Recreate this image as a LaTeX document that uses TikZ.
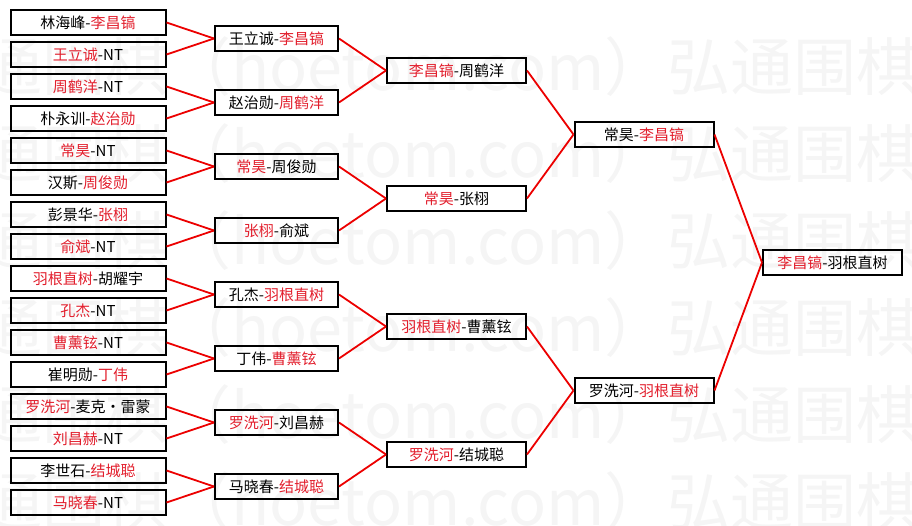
\documentclass[tikz,border=0pt]{standalone}
\usepackage{fontspec}
\setmainfont{Noto Sans CJK SC}
\usetikzlibrary{positioning}

\definecolor{winred}{RGB}{226,30,44}
\definecolor{linkred}{RGB}{236,0,0}
\definecolor{wmgray}{RGB}{245,245,245}
\newcommand{\win}[1]{\textcolor{winred}{#1}}

\begin{document}
\begin{tikzpicture}[
x=1pt, y=-1pt,
box/.style={rectangle, draw=black, line width=2pt, inner sep=0pt, minimum height=25pt, font=\fontsize{15pt}{16pt}\selectfont},
first/.style={box, minimum width=155pt},
second/.style={box, minimum width=123pt},
third/.style={box, minimum width=139pt},
wmark/.style={anchor=west, inner sep=0pt, text=wmgray, font=\fontsize{63pt}{66pt}\selectfont},
line/.style={linkred, line width=1.8pt}
]
\useasboundingbox (0,0) rectangle (912,525);
\clip (0,0) rectangle (912,525);

% watermark rows
\node[wmark] (wm1) at (-84,67) {弘通围棋（hoetom.com）弘通围棋};
\node[wmark] (wm2) at (-84,154) {弘通围棋（hoetom.com）弘通围棋};
\node[wmark] (wm3) at (-84,241) {弘通围棋（hoetom.com）弘通围棋};
\node[wmark] (wm4) at (-84,328) {弘通围棋（hoetom.com）弘通围棋};
\node[wmark] (wm5) at (-84,415) {弘通围棋（hoetom.com）弘通围棋};
\node[wmark] (wm6) at (-84,502) {弘通围棋（hoetom.com）弘通围棋};

% round of 32
\node[first] (a1) at (88,22.5) {林海峰-\win{李昌镐}};
\node[first] (a2) at (88,54.5) {\win{王立诚}-NT};
\node[first] (a3) at (88,86.5) {\win{周鹤洋}-NT};
\node[first] (a4) at (88,118.5) {朴永训-\win{赵治勋}};
\node[first] (a5) at (88,150.5) {\win{常昊}-NT};
\node[first] (a6) at (88,182.5) {汉斯-\win{周俊勋}};
\node[first] (a7) at (88,214.5) {彭景华-\win{张栩}};
\node[first] (a8) at (88,246.5) {\win{俞斌}-NT};
\node[first] (a9) at (88,278.5) {\win{羽根直树}-胡耀宇};
\node[first] (a10) at (88,310.5) {\win{孔杰}-NT};
\node[first] (a11) at (88,342.5) {\win{曹薰铉}-NT};
\node[first] (a12) at (88,374.5) {崔明勋-\win{丁伟}};
\node[first] (a13) at (88,406.5) {\win{罗洗河}-麦克・雷蒙};
\node[first] (a14) at (88,438.5) {\win{刘昌赫}-NT};
\node[first] (a15) at (88,470.5) {李世石-\win{结城聪}};
\node[first] (a16) at (88,502.5) {\win{马晓春}-NT};

% round of 16
\node[second] (b1) at (276.5,38.5) {王立诚-\win{李昌镐}};
\node[second] (b2) at (276.5,102.5) {赵治勋-\win{周鹤洋}};
\node[second] (b3) at (276.5,166.5) {\win{常昊}-周俊勋};
\node[second] (b4) at (276.5,230.5) {\win{张栩}-俞斌};
\node[second] (b5) at (276.5,294.5) {孔杰-\win{羽根直树}};
\node[second] (b6) at (276.5,358.5) {丁伟-\win{曹薰铉}};
\node[second] (b7) at (276.5,422.5) {\win{罗洗河}-刘昌赫};
\node[second] (b8) at (276.5,486.5) {马晓春-\win{结城聪}};

% quarter finals
\node[third] (c1) at (456.5,70.5) {\win{李昌镐}-周鹤洋};
\node[third] (c2) at (456.5,198.5) {\win{常昊}-张栩};
\node[third] (c3) at (456.5,326.5) {\win{羽根直树}-曹薰铉};
\node[third] (c4) at (456.5,454.5) {\win{罗洗河}-结城聪};

% semi finals and final
\node[third] (d1) at (644,134.5) {常昊-\win{李昌镐}};
\node[third] (d2) at (644,390.5) {罗洗河-\win{羽根直树}};
\node[third] (final) at (832.5,262.5) {\win{李昌镐}-羽根直树};

\draw[line] (a1.east) -- (b1.west);
\draw[line] (a2.east) -- (b1.west);
\draw[line] (a3.east) -- (b2.west);
\draw[line] (a4.east) -- (b2.west);
\draw[line] (a5.east) -- (b3.west);
\draw[line] (a6.east) -- (b3.west);
\draw[line] (a7.east) -- (b4.west);
\draw[line] (a8.east) -- (b4.west);
\draw[line] (a9.east) -- (b5.west);
\draw[line] (a10.east) -- (b5.west);
\draw[line] (a11.east) -- (b6.west);
\draw[line] (a12.east) -- (b6.west);
\draw[line] (a13.east) -- (b7.west);
\draw[line] (a14.east) -- (b7.west);
\draw[line] (a15.east) -- (b8.west);
\draw[line] (a16.east) -- (b8.west);
\draw[line] (b1.east) -- (c1.west);
\draw[line] (b2.east) -- (c1.west);
\draw[line] (b3.east) -- (c2.west);
\draw[line] (b4.east) -- (c2.west);
\draw[line] (b5.east) -- (c3.west);
\draw[line] (b6.east) -- (c3.west);
\draw[line] (b7.east) -- (c4.west);
\draw[line] (b8.east) -- (c4.west);
\draw[line] (c1.east) -- (d1.west);
\draw[line] (c2.east) -- (d1.west);
\draw[line] (c3.east) -- (d2.west);
\draw[line] (c4.east) -- (d2.west);
\draw[line] (d1.east) -- (final.west);
\draw[line] (d2.east) -- (final.west);
\end{tikzpicture}
\end{document}
